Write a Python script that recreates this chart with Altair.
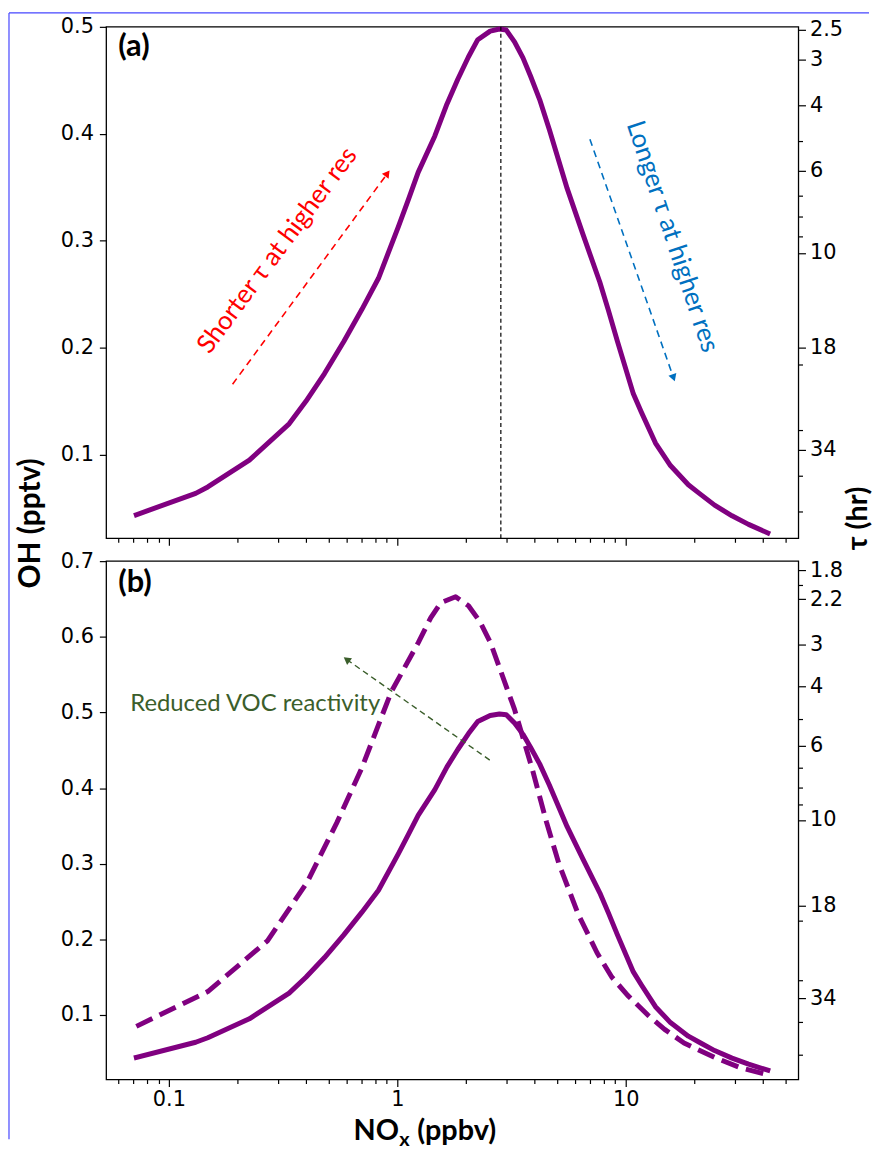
import json
import altair as alt
import pandas as pd

# ---------------- data ----------------
NOX_SOLID = [0.072, 0.131, 0.148, 0.225, 0.336, 0.398, 0.48, 0.583, 0.70, 0.827,
             1.01, 1.12, 1.234, 1.46, 1.65, 1.84, 2.05, 2.25, 2.55, 2.80,
             3.0, 3.26, 3.55, 3.83, 4.2, 4.63, 5.54, 6.5, 7.70, 8.4,
             9.2, 10.8, 11.7, 13.5, 15.7, 18.8, 21.0, 24.5, 29.2, 34.5, 41.9]
OH_SOLID = [0.044, 0.064, 0.070, 0.095, 0.129, 0.150, 0.176, 0.206, 0.236, 0.265,
            0.313, 0.339, 0.364, 0.398, 0.428, 0.451, 0.472, 0.488, 0.496, 0.498,
            0.497, 0.486, 0.471, 0.454, 0.432, 0.404, 0.349, 0.306, 0.2615, 0.235,
            0.206, 0.157, 0.140, 0.111, 0.090, 0.072, 0.064, 0.053, 0.043, 0.035, 0.027]

NOX_DASH = [0.072, 0.148, 0.27, 0.402, 0.543, 0.698, 0.94, 1.234, 1.4, 1.55,
            1.8, 2.05, 2.3, 2.56, 3.26, 3.9, 4.5, 5.1, 6.2, 7.5, 8.7, 10.2,
            12.5, 14.8, 18.0, 24.9, 32.0, 41.9]
OH_DASH = [0.085, 0.131, 0.198, 0.275, 0.354, 0.426, 0.527, 0.592, 0.625, 0.645,
           0.653, 0.641, 0.620, 0.592, 0.504, 0.425, 0.355, 0.300, 0.233, 0.182, 0.150, 0.126,
           0.100, 0.081, 0.063, 0.043, 0.030, 0.021]

PEAK_NOX = 2.84

X_DOMAIN = [0.0532, 57.1]
X_MAJOR = [0.1, 1, 10]
X_MAJOR_LABELS = ["0.1", "1", "10"]
X_MINOR = [0.06, 0.07, 0.08, 0.09, 0.2, 0.3, 0.4, 0.5, 0.6, 0.7, 0.8, 0.9,
           2, 3, 4, 5, 6, 7, 8, 9, 20, 30, 40, 50]

OH_DOMAIN_A = [0.022, 0.5]
OH_TICKS_A = [0.1, 0.2, 0.3, 0.4, 0.5]
OH_DOMAIN_B = [0.0147, 0.7]
OH_TICKS_B = [0.1, 0.2, 0.3, 0.4, 0.5, 0.6, 0.7]

TAU_DOMAIN_A = [2.453, 58.95]
TAU_MAJOR_A = [2.5, 3, 4, 6, 10, 18, 34]
TAU_MINOR_A = [5, 7, 8, 9, 20, 30, 40, 50]
TAU_DOMAIN_B = [1.693, 59.4]
TAU_MAJOR_B = [1.8, 2.2, 3, 4, 6, 10, 18, 34]
TAU_MINOR_B = [2, 5, 7, 8, 9, 20, 30, 40, 50]

RED_ARROW = {"nox": [0.19], "oh": [0.166], "nox2": [0.905], "oh2": [0.363]}
BLUE_ARROW = {"nox": [6.97], "oh": [0.395], "nox2": [16.2], "oh2": [0.172]}
GREEN_ARROW = {"nox": [2.54], "oh": [0.437], "nox2": [0.60], "oh2": [0.570]}

RED_TEXT = {"nox": [0.298], "oh": [0.291], "t": ["Shorter \u03c4 at higher res"]}
BLUE_TEXT = {"nox": [16.0], "oh": [0.304], "t": ["Longer \u03c4 at higher res"]}
GREEN_TEXT = {"nox": [0.0677], "oh": [0.511], "t": ["Reduced VOC reactivity"]}

# ---------------- layout / styling ----------------
W = 697
A_TOP, A_BOT = 0, 515        # panel (a) plot rows (pixels inside the chart)
B_TOP, B_BOT = 538, 1060     # panel (b) plot rows
H = B_BOT
PURPLE = "#800080"
TICK_FONT = "DejaVu Sans"
TXT_FONT = "Lato"
BORDER = "#4646ff"
ONE = pd.DataFrame({"a": [0]})


def x_axis(labels, offset):
    test = "indexof(%s, datum.value) >= 0" % json.dumps(X_MAJOR)
    lab = " : ".join("datum.value == %s ? '%s'" % (v, l)
                     for v, l in zip(X_MAJOR, X_MAJOR_LABELS)) + " : ''"
    return alt.Axis(values=X_MAJOR + X_MINOR, labels=labels, labelExpr=lab,
                    title=None, grid=False, domain=False, tickColor="black",
                    tickWidth=1.2, offset=offset,
                    tickSize={"condition": {"test": test, "value": 7}, "value": 4},
                    labelFont=TICK_FONT, labelFontSize=21, labelColor="black",
                    labelPadding=2, labelOverlap=False, labelFlush=False, orient="bottom")


def y_axis(ticks):
    return alt.Axis(values=ticks, format=".1f", title=None, grid=False, domain=False,
                    tickColor="black", tickWidth=1.2, tickSize=7, labelFont=TICK_FONT,
                    labelFontSize=21, labelColor="black", labelPadding=6, orient="left",
                    labelOverlap=False, labelFlush=False)


class Panel:
    def __init__(self, ydom, top, bot, yticks, labels):
        self.ydom = ydom
        self.top, self.bot = top, bot
        self.xax = x_axis(labels, bot - H)
        self.yax = y_axis(yticks)

    def x(self, field="nox"):
        return alt.X(f"{field}:Q", scale=alt.Scale(type="log", domain=X_DOMAIN, nice=False), axis=self.xax)

    def y(self, field="oh"):
        return alt.Y(f"{field}:Q", scale=alt.Scale(domain=self.ydom, range=[self.bot, self.top],
                                                   nice=False, zero=False), axis=self.yax)

    def frame(self):
        return alt.Chart(ONE).mark_rect(fillOpacity=0, stroke="black", strokeWidth=1.3).encode(
            x=alt.value(0), x2=alt.value(W), y=alt.value(self.top), y2=alt.value(self.bot))

    def line(self, df, dash=None, cap="square"):
        kw = dict(color=PURPLE, strokeWidth=5, strokeJoin="round", strokeCap=cap)
        if dash:
            kw["strokeDash"] = dash
        return alt.Chart(df).mark_line(**kw).encode(x=self.x(), y=self.y())

    def arrow(self, d, color, dash, width, head_angle):
        df = pd.DataFrame(d)
        line = alt.Chart(df).mark_rule(color=color, strokeDash=dash, strokeWidth=width).encode(
            x=self.x(), x2=alt.X2("nox2:Q"), y=self.y(), y2=alt.Y2("oh2:Q"))
        head = alt.Chart(df).mark_point(shape="triangle-up", filled=True, size=70, angle=head_angle,
                                        color=color, opacity=1).encode(
            x=self.x("nox2"), y=self.y("oh2"))
        return [line, head]

    def label(self, d, color, angle, align="center", size=24):
        df = pd.DataFrame(d)
        return alt.Chart(df).mark_text(color=color, angle=angle, align=align, baseline="middle",
                                       font=TXT_FONT, fontSize=size).encode(
            x=self.x(), y=self.y(), text="t:N")

    def vline(self, xval):
        return alt.Chart(pd.DataFrame({"nox": [xval]})).mark_rule(
            color="black", strokeDash=[4, 3], strokeWidth=1.2).encode(
            x=self.x(), y=alt.value(self.top), y2=alt.value(self.bot))

    def tau(self, domain, major, minor):
        test = "indexof(%s, datum.value) >= 0" % json.dumps(major)
        ax = alt.Axis(orient="right", values=major + minor,
                      labelExpr="%s ? toString(datum.value) : ''" % test,
                      title=None, grid=False, domain=False, tickColor="black", tickWidth=1.2,
                      tickSize={"condition": {"test": test, "value": 7}, "value": 4},
                      labelFont=TICK_FONT, labelFontSize=21, labelColor="black",
                      labelPadding=4, labelOverlap=False, labelFlush=False)
        df = pd.DataFrame({"tau": major + minor})
        return alt.Chart(df).mark_point(opacity=0).encode(
            y=alt.Y("tau:Q", scale=alt.Scale(type="log", domain=domain, range=[self.top, self.bot],
                                             nice=False), axis=ax))


def ptext(txt, x, y, size, angle=0, align="center", baseline="middle", weight="bold"):
    return alt.Chart(ONE).mark_text(text=txt, angle=angle, align=align, baseline=baseline,
                                    font=TXT_FONT, fontSize=size, fontWeight=weight,
                                    color="black").encode(x=alt.value(x), y=alt.value(y))


solid = pd.DataFrame({"nox": NOX_SOLID, "oh": OH_SOLID})
dash = pd.DataFrame({"nox": NOX_DASH, "oh": OH_DASH})

# ---------------- panel (a) ----------------
pa = Panel(OH_DOMAIN_A, A_TOP, A_BOT, OH_TICKS_A, labels=False)
a_layers = [pa.frame(), pa.line(solid), pa.vline(PEAK_NOX)]
a_layers += pa.arrow(RED_ARROW, "#ff0000", [7, 5], 1.6, 36.6)
a_layers += pa.arrow(BLUE_ARROW, "#0070c0", [7, 5], 1.6, 160.8)
a_layers += [
    pa.label(RED_TEXT, "#ff0000", 306.6, size=26),
    pa.label(BLUE_TEXT, "#0070c0", 71.6, size=26),
    alt.Chart(ONE).mark_rule(color=BORDER, strokeWidth=1.2).encode(
        x=alt.value(-98), y=alt.value(-14), y2=alt.value(H + 60)),
    alt.Chart(ONE).mark_rule(color=BORDER, strokeWidth=1.2).encode(
        x=alt.value(-98), x2=alt.value(768), y=alt.value(-14)),
    ptext("(a)", 12, A_TOP + 20, 31, align="left"),
    ptext("OH (pptv)", -76, 500, 30, angle=270),
    ptext("\u03c4 (hr)", 772, 495, 29, angle=270, baseline="bottom"),
]
group_a = alt.layer(alt.layer(*a_layers),
                    pa.tau(TAU_DOMAIN_A, TAU_MAJOR_A, TAU_MINOR_A)).resolve_scale(y="independent")

# ---------------- panel (b) ----------------
pb = Panel(OH_DOMAIN_B, B_TOP, B_BOT, OH_TICKS_B, labels=True)
b_layers = [pb.frame(), pb.line(solid), pb.line(dash, dash=[18, 8], cap="butt")]
b_layers += pb.arrow(GREEN_ARROW, "#3b5e2b", [6, 4], 1.4, 306.1)
b_layers += [
    pb.label(GREEN_TEXT, "#3b5e2b", 0, align="left"),
    ptext("(b)", 12, B_TOP + 22, 31, align="left"),
    ptext("NO", 249, H + 61, 29, align="left", baseline="alphabetic"),
    ptext("x", 295, H + 67, 20, align="left", baseline="alphabetic"),
    ptext("(ppbv)", 313, H + 61, 29, align="left", baseline="alphabetic"),
]
group_b = alt.layer(alt.layer(*b_layers),
                    pb.tau(TAU_DOMAIN_B, TAU_MAJOR_B, TAU_MINOR_B)).resolve_scale(y="independent")

chart = alt.layer(group_a, group_b).resolve_scale(
    x="independent", y="independent"
).properties(width=W, height=H).configure_view(stroke="transparent").properties(
    padding={"left": 0, "top": 0, "right": 0, "bottom": 0}, background="white")

chart.save("out.html", embed_options={"renderer": "svg", "actions": False})
